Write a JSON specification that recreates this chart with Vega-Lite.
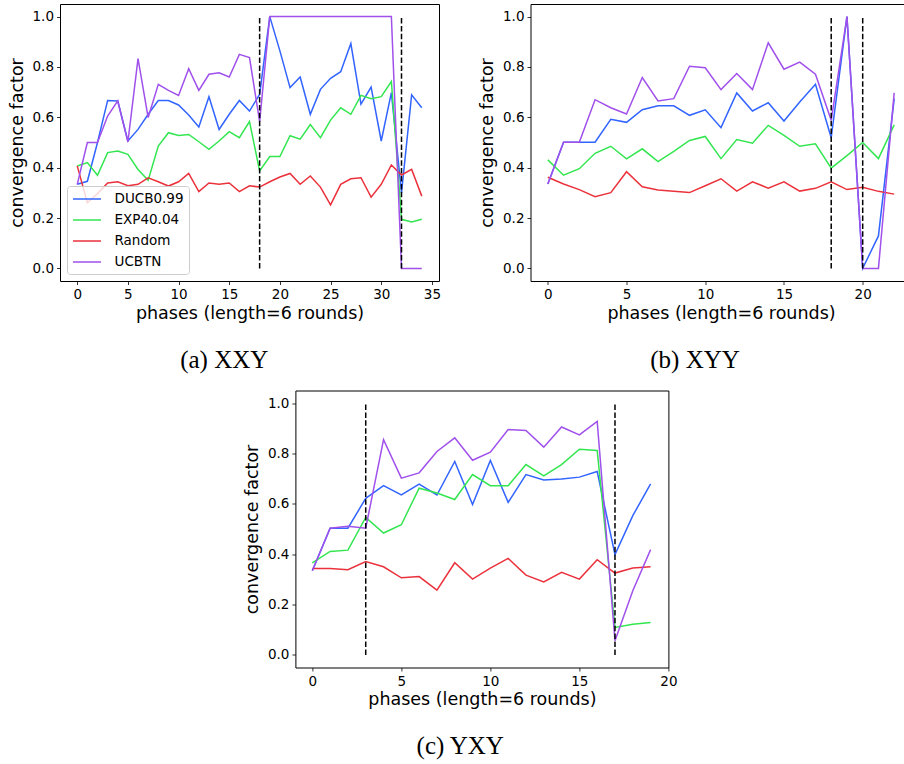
{
"$schema": "https://vega.github.io/schema/vega-lite/v6.json",
"padding": {"left": 7, "top": 3, "right": 0, "bottom": 0},
"background": "white",
"config": {
  "font": "DejaVu Sans",
  "view": {"stroke": "black", "strokeWidth": 1},
  "axis": {"domain": false, "grid": false, "tickColor": "black", "tickSize": 3.5, "tickWidth": 0.8, "labelColor": "black", "labelFont": "DejaVu Sans", "labelFontSize": 13.5, "labelPadding": 3, "titleColor": "black", "titleFont": "DejaVu Sans", "titleFontSize": 17.5, "titleFontWeight": "normal", "labelFlush": false, "labelOverlap": false},
  "axisX": {"titlePadding": 3},
  "axisY": {"titlePadding": 6},
  "title": {"font": "Liberation Serif", "fontSize": 25, "fontWeight": "normal", "color": "black", "orient": "bottom", "anchor": "middle", "frame": "bounds", "offset": 26}
},
"spacing": 16.5,
"resolve": {"scale": {"color": "independent", "x": "independent", "y": "independent"}, "legend": {"color": "independent"}},
"vconcat": [
 {
  "bounds": "flush",
  "spacing": 91.5,
  "resolve": {"scale": {"color": "independent", "x": "independent", "y": "independent"}, "legend": {"color": "independent"}},
  "hconcat": [
   {
    "width": 379, "height": 277,
    "title": {"text": "(a) XXY"},
    "layer": [
     {
      "data": {"values": [
{"phase":0,"algorithm":"DUCB0.99","value":0.334},{"phase":1,"algorithm":"DUCB0.99","value":0.346},{"phase":2,"algorithm":"DUCB0.99","value":0.5},{"phase":3,"algorithm":"DUCB0.99","value":0.667},{"phase":4,"algorithm":"DUCB0.99","value":0.665},{"phase":5,"algorithm":"DUCB0.99","value":0.506},{"phase":6,"algorithm":"DUCB0.99","value":0.552},{"phase":7,"algorithm":"DUCB0.99","value":0.612},{"phase":8,"algorithm":"DUCB0.99","value":0.667},{"phase":9,"algorithm":"DUCB0.99","value":0.667},{"phase":10,"algorithm":"DUCB0.99","value":0.649},{"phase":11,"algorithm":"DUCB0.99","value":0.609},{"phase":12,"algorithm":"DUCB0.99","value":0.562},{"phase":13,"algorithm":"DUCB0.99","value":0.682},{"phase":14,"algorithm":"DUCB0.99","value":0.552},{"phase":15,"algorithm":"DUCB0.99","value":0.612},{"phase":16,"algorithm":"DUCB0.99","value":0.667},{"phase":17,"algorithm":"DUCB0.99","value":0.625},{"phase":18,"algorithm":"DUCB0.99","value":0.691},{"phase":19,"algorithm":"DUCB0.99","value":1.0},{"phase":20,"algorithm":"DUCB0.99","value":0.864},{"phase":21,"algorithm":"DUCB0.99","value":0.718},{"phase":22,"algorithm":"DUCB0.99","value":0.76},{"phase":23,"algorithm":"DUCB0.99","value":0.612},{"phase":24,"algorithm":"DUCB0.99","value":0.711},{"phase":25,"algorithm":"DUCB0.99","value":0.755},{"phase":26,"algorithm":"DUCB0.99","value":0.781},{"phase":27,"algorithm":"DUCB0.99","value":0.893},{"phase":28,"algorithm":"DUCB0.99","value":0.652},{"phase":29,"algorithm":"DUCB0.99","value":0.72},{"phase":30,"algorithm":"DUCB0.99","value":0.506},{"phase":31,"algorithm":"DUCB0.99","value":0.698},{"phase":32,"algorithm":"DUCB0.99","value":0.3},{"phase":33,"algorithm":"DUCB0.99","value":0.689},{"phase":34,"algorithm":"DUCB0.99","value":0.638},
{"phase":0,"algorithm":"EXP40.04","value":0.407},{"phase":1,"algorithm":"EXP40.04","value":0.42},{"phase":2,"algorithm":"EXP40.04","value":0.37},{"phase":3,"algorithm":"EXP40.04","value":0.46},{"phase":4,"algorithm":"EXP40.04","value":0.466},{"phase":5,"algorithm":"EXP40.04","value":0.453},{"phase":6,"algorithm":"EXP40.04","value":0.393},{"phase":7,"algorithm":"EXP40.04","value":0.35},{"phase":8,"algorithm":"EXP40.04","value":0.486},{"phase":9,"algorithm":"EXP40.04","value":0.539},{"phase":10,"algorithm":"EXP40.04","value":0.528},{"phase":11,"algorithm":"EXP40.04","value":0.532},{"phase":12,"algorithm":"EXP40.04","value":0.503},{"phase":13,"algorithm":"EXP40.04","value":0.473},{"phase":14,"algorithm":"EXP40.04","value":0.506},{"phase":15,"algorithm":"EXP40.04","value":0.543},{"phase":16,"algorithm":"EXP40.04","value":0.519},{"phase":17,"algorithm":"EXP40.04","value":0.583},{"phase":18,"algorithm":"EXP40.04","value":0.387},{"phase":19,"algorithm":"EXP40.04","value":0.444},{"phase":20,"algorithm":"EXP40.04","value":0.444},{"phase":21,"algorithm":"EXP40.04","value":0.527},{"phase":22,"algorithm":"EXP40.04","value":0.513},{"phase":23,"algorithm":"EXP40.04","value":0.571},{"phase":24,"algorithm":"EXP40.04","value":0.519},{"phase":25,"algorithm":"EXP40.04","value":0.589},{"phase":26,"algorithm":"EXP40.04","value":0.638},{"phase":27,"algorithm":"EXP40.04","value":0.612},{"phase":28,"algorithm":"EXP40.04","value":0.687},{"phase":29,"algorithm":"EXP40.04","value":0.674},{"phase":30,"algorithm":"EXP40.04","value":0.682},{"phase":31,"algorithm":"EXP40.04","value":0.742},{"phase":32,"algorithm":"EXP40.04","value":0.195},{"phase":33,"algorithm":"EXP40.04","value":0.184},{"phase":34,"algorithm":"EXP40.04","value":0.195},
{"phase":0,"algorithm":"Random","value":0.407},{"phase":1,"algorithm":"Random","value":0.261},{"phase":2,"algorithm":"Random","value":0.297},{"phase":3,"algorithm":"Random","value":0.339},{"phase":4,"algorithm":"Random","value":0.344},{"phase":5,"algorithm":"Random","value":0.328},{"phase":6,"algorithm":"Random","value":0.334},{"phase":7,"algorithm":"Random","value":0.36},{"phase":8,"algorithm":"Random","value":0.344},{"phase":9,"algorithm":"Random","value":0.327},{"phase":10,"algorithm":"Random","value":0.344},{"phase":11,"algorithm":"Random","value":0.377},{"phase":12,"algorithm":"Random","value":0.305},{"phase":13,"algorithm":"Random","value":0.339},{"phase":14,"algorithm":"Random","value":0.334},{"phase":15,"algorithm":"Random","value":0.339},{"phase":16,"algorithm":"Random","value":0.305},{"phase":17,"algorithm":"Random","value":0.328},{"phase":18,"algorithm":"Random","value":0.323},{"phase":19,"algorithm":"Random","value":0.344},{"phase":20,"algorithm":"Random","value":0.363},{"phase":21,"algorithm":"Random","value":0.377},{"phase":22,"algorithm":"Random","value":0.334},{"phase":23,"algorithm":"Random","value":0.367},{"phase":24,"algorithm":"Random","value":0.323},{"phase":25,"algorithm":"Random","value":0.252},{"phase":26,"algorithm":"Random","value":0.334},{"phase":27,"algorithm":"Random","value":0.356},{"phase":28,"algorithm":"Random","value":0.36},{"phase":29,"algorithm":"Random","value":0.283},{"phase":30,"algorithm":"Random","value":0.334},{"phase":31,"algorithm":"Random","value":0.411},{"phase":32,"algorithm":"Random","value":0.371},{"phase":33,"algorithm":"Random","value":0.393},{"phase":34,"algorithm":"Random","value":0.287},
{"phase":0,"algorithm":"UCBTN","value":0.334},{"phase":1,"algorithm":"UCBTN","value":0.5},{"phase":2,"algorithm":"UCBTN","value":0.5},{"phase":3,"algorithm":"UCBTN","value":0.605},{"phase":4,"algorithm":"UCBTN","value":0.665},{"phase":5,"algorithm":"UCBTN","value":0.502},{"phase":6,"algorithm":"UCBTN","value":0.833},{"phase":7,"algorithm":"UCBTN","value":0.599},{"phase":8,"algorithm":"UCBTN","value":0.731},{"phase":9,"algorithm":"UCBTN","value":0.707},{"phase":10,"algorithm":"UCBTN","value":0.687},{"phase":11,"algorithm":"UCBTN","value":0.793},{"phase":12,"algorithm":"UCBTN","value":0.707},{"phase":13,"algorithm":"UCBTN","value":0.771},{"phase":14,"algorithm":"UCBTN","value":0.777},{"phase":15,"algorithm":"UCBTN","value":0.76},{"phase":16,"algorithm":"UCBTN","value":0.85},{"phase":17,"algorithm":"UCBTN","value":0.837},{"phase":18,"algorithm":"UCBTN","value":0.583},{"phase":19,"algorithm":"UCBTN","value":1},{"phase":20,"algorithm":"UCBTN","value":1},{"phase":21,"algorithm":"UCBTN","value":1},{"phase":22,"algorithm":"UCBTN","value":1},{"phase":23,"algorithm":"UCBTN","value":1},{"phase":24,"algorithm":"UCBTN","value":1},{"phase":25,"algorithm":"UCBTN","value":1},{"phase":26,"algorithm":"UCBTN","value":1},{"phase":27,"algorithm":"UCBTN","value":1},{"phase":28,"algorithm":"UCBTN","value":1},{"phase":29,"algorithm":"UCBTN","value":1},{"phase":30,"algorithm":"UCBTN","value":1},{"phase":31,"algorithm":"UCBTN","value":1},{"phase":32,"algorithm":"UCBTN","value":0},{"phase":33,"algorithm":"UCBTN","value":0},{"phase":34,"algorithm":"UCBTN","value":0}
      ]},
      "mark": {"type": "line", "strokeWidth": 1.5},
      "encoding": {
        "x": {"field": "phase", "type": "quantitative", "title": "phases (length=6 rounds)", "scale": {"domain": [-1.7, 35.7], "nice": false, "zero": false}, "axis": {"values": [0,5,10,15,20,25,30,35], "format": "d"}},
        "y": {"field": "value", "type": "quantitative", "title": "convergence factor", "scale": {"domain": [-0.05, 1.05], "nice": false, "zero": false}, "axis": {"values": [0,0.2,0.4,0.6,0.8,1], "format": ".1f"}},
        "color": {"field": "algorithm", "type": "nominal", "scale": {"domain": ["DUCB0.99","EXP40.04","Random","UCBTN"], "range": ["#3264ff","#33e650","#eb323c","#a050eb"]},
          "legend": {"title": null, "orient": "bottom-left", "offset": 7, "symbolType": "M-2,0L2,0", "symbolSize": 196, "symbolOffset": 7, "symbolStrokeWidth": 1.5, "labelFont": "DejaVu Sans", "labelFontSize": 13.5, "labelColor": "black", "labelOffset": 19.5, "rowPadding": 6, "padding": 5, "fillColor": "rgba(255,255,255,0.8)", "strokeColor": "#cccccc", "cornerRadius": 3}}
      }
     },
     {
      "data": {"values": [{"phase": 18}, {"phase": 32}]},
      "mark": {"type": "rule", "color": "black", "strokeWidth": 1.5, "strokeDash": [5.5, 2.4]},
      "encoding": {"x": {"field": "phase", "type": "quantitative"}, "y": {"datum": 0}, "y2": {"datum": 1}}
     }
    ]
   },
   {
    "width": 381, "height": 277,
    "title": {"text": "(b) XYY"},
    "layer": [
     {
      "data": {"values": [
{"phase":0,"algorithm":"DUCB0.99","value":0.335},{"phase":1,"algorithm":"DUCB0.99","value":0.501},{"phase":2,"algorithm":"DUCB0.99","value":0.501},{"phase":3,"algorithm":"DUCB0.99","value":0.501},{"phase":4,"algorithm":"DUCB0.99","value":0.592},{"phase":5,"algorithm":"DUCB0.99","value":0.58},{"phase":6,"algorithm":"DUCB0.99","value":0.63},{"phase":7,"algorithm":"DUCB0.99","value":0.646},{"phase":8,"algorithm":"DUCB0.99","value":0.646},{"phase":9,"algorithm":"DUCB0.99","value":0.608},{"phase":10,"algorithm":"DUCB0.99","value":0.63},{"phase":11,"algorithm":"DUCB0.99","value":0.559},{"phase":12,"algorithm":"DUCB0.99","value":0.697},{"phase":13,"algorithm":"DUCB0.99","value":0.625},{"phase":14,"algorithm":"DUCB0.99","value":0.658},{"phase":15,"algorithm":"DUCB0.99","value":0.585},{"phase":16,"algorithm":"DUCB0.99","value":0.661},{"phase":17,"algorithm":"DUCB0.99","value":0.731},{"phase":18,"algorithm":"DUCB0.99","value":0.519},{"phase":19,"algorithm":"DUCB0.99","value":1.0},{"phase":20,"algorithm":"DUCB0.99","value":0.0},{"phase":21,"algorithm":"DUCB0.99","value":0.129},{"phase":22,"algorithm":"DUCB0.99","value":0.674},
{"phase":0,"algorithm":"EXP40.04","value":0.431},{"phase":1,"algorithm":"EXP40.04","value":0.37},{"phase":2,"algorithm":"EXP40.04","value":0.396},{"phase":3,"algorithm":"EXP40.04","value":0.457},{"phase":4,"algorithm":"EXP40.04","value":0.485},{"phase":5,"algorithm":"EXP40.04","value":0.435},{"phase":6,"algorithm":"EXP40.04","value":0.475},{"phase":7,"algorithm":"EXP40.04","value":0.424},{"phase":8,"algorithm":"EXP40.04","value":0.465},{"phase":9,"algorithm":"EXP40.04","value":0.508},{"phase":10,"algorithm":"EXP40.04","value":0.524},{"phase":11,"algorithm":"EXP40.04","value":0.436},{"phase":12,"algorithm":"EXP40.04","value":0.512},{"phase":13,"algorithm":"EXP40.04","value":0.497},{"phase":14,"algorithm":"EXP40.04","value":0.568},{"phase":15,"algorithm":"EXP40.04","value":0.528},{"phase":16,"algorithm":"EXP40.04","value":0.485},{"phase":17,"algorithm":"EXP40.04","value":0.495},{"phase":18,"algorithm":"EXP40.04","value":0.398},{"phase":19,"algorithm":"EXP40.04","value":0.448},{"phase":20,"algorithm":"EXP40.04","value":0.5},{"phase":21,"algorithm":"EXP40.04","value":0.436},{"phase":22,"algorithm":"EXP40.04","value":0.57},
{"phase":0,"algorithm":"Random","value":0.362},{"phase":1,"algorithm":"Random","value":0.335},{"phase":2,"algorithm":"Random","value":0.313},{"phase":3,"algorithm":"Random","value":0.285},{"phase":4,"algorithm":"Random","value":0.301},{"phase":5,"algorithm":"Random","value":0.384},{"phase":6,"algorithm":"Random","value":0.324},{"phase":7,"algorithm":"Random","value":0.311},{"phase":8,"algorithm":"Random","value":0.306},{"phase":9,"algorithm":"Random","value":0.301},{"phase":10,"algorithm":"Random","value":0.328},{"phase":11,"algorithm":"Random","value":0.356},{"phase":12,"algorithm":"Random","value":0.307},{"phase":13,"algorithm":"Random","value":0.344},{"phase":14,"algorithm":"Random","value":0.319},{"phase":15,"algorithm":"Random","value":0.344},{"phase":16,"algorithm":"Random","value":0.307},{"phase":17,"algorithm":"Random","value":0.318},{"phase":18,"algorithm":"Random","value":0.344},{"phase":19,"algorithm":"Random","value":0.313},{"phase":20,"algorithm":"Random","value":0.322},{"phase":21,"algorithm":"Random","value":0.306},{"phase":22,"algorithm":"Random","value":0.295},
{"phase":0,"algorithm":"UCBTN","value":0.335},{"phase":1,"algorithm":"UCBTN","value":0.501},{"phase":2,"algorithm":"UCBTN","value":0.501},{"phase":3,"algorithm":"UCBTN","value":0.67},{"phase":4,"algorithm":"UCBTN","value":0.638},{"phase":5,"algorithm":"UCBTN","value":0.613},{"phase":6,"algorithm":"UCBTN","value":0.758},{"phase":7,"algorithm":"UCBTN","value":0.665},{"phase":8,"algorithm":"UCBTN","value":0.674},{"phase":9,"algorithm":"UCBTN","value":0.803},{"phase":10,"algorithm":"UCBTN","value":0.797},{"phase":11,"algorithm":"UCBTN","value":0.71},{"phase":12,"algorithm":"UCBTN","value":0.774},{"phase":13,"algorithm":"UCBTN","value":0.71},{"phase":14,"algorithm":"UCBTN","value":0.896},{"phase":15,"algorithm":"UCBTN","value":0.791},{"phase":16,"algorithm":"UCBTN","value":0.819},{"phase":17,"algorithm":"UCBTN","value":0.771},{"phase":18,"algorithm":"UCBTN","value":0.588},{"phase":19,"algorithm":"UCBTN","value":1.0},{"phase":20,"algorithm":"UCBTN","value":0.0},{"phase":21,"algorithm":"UCBTN","value":0.0},{"phase":22,"algorithm":"UCBTN","value":0.697}
      ]},
      "mark": {"type": "line", "strokeWidth": 1.5},
      "encoding": {
        "x": {"field": "phase", "type": "quantitative", "title": "phases (length=6 rounds)", "scale": {"domain": [-1.1, 23.1], "nice": false, "zero": false}, "axis": {"values": [0,5,10,15,20], "format": "d"}},
        "y": {"field": "value", "type": "quantitative", "title": "convergence factor", "scale": {"domain": [-0.05, 1.05], "nice": false, "zero": false}, "axis": {"values": [0,0.2,0.4,0.6,0.8,1], "format": ".1f"}},
        "color": {"field": "algorithm", "type": "nominal", "scale": {"domain": ["DUCB0.99","EXP40.04","Random","UCBTN"], "range": ["#3264ff","#33e650","#eb323c","#a050eb"]}, "legend": null}
      }
     },
     {
      "data": {"values": [{"phase": 18}, {"phase": 20}]},
      "mark": {"type": "rule", "color": "black", "strokeWidth": 1.5, "strokeDash": [5.5, 2.4]},
      "encoding": {"x": {"field": "phase", "type": "quantitative"}, "y": {"datum": 0}, "y2": {"datum": 1}}
     }
    ]
   }
  ]
 },
 {
  "bounds": "flush",
  "spacing": 234.4,
  "resolve": {"scale": {"color": "independent", "x": "independent", "y": "independent"}, "legend": {"color": "independent"}},
  "hconcat": [
   {
    "width": 1, "height": 277,
    "view": {"stroke": null},
    "data": {"values": [{"n": 1}]},
    "mark": {"type": "point", "opacity": 0, "size": 0},
    "encoding": {}
   },
   {
    "width": 373, "height": 277,
    "title": {"text": "(c) YXY"},
    "layer": [
     {
      "data": {"values": [
{"phase":0,"algorithm":"DUCB0.99","value":0.334},{"phase":1,"algorithm":"DUCB0.99","value":0.503},{"phase":2,"algorithm":"DUCB0.99","value":0.503},{"phase":3,"algorithm":"DUCB0.99","value":0.622},{"phase":4,"algorithm":"DUCB0.99","value":0.672},{"phase":5,"algorithm":"DUCB0.99","value":0.635},{"phase":6,"algorithm":"DUCB0.99","value":0.678},{"phase":7,"algorithm":"DUCB0.99","value":0.635},{"phase":8,"algorithm":"DUCB0.99","value":0.768},{"phase":9,"algorithm":"DUCB0.99","value":0.597},{"phase":10,"algorithm":"DUCB0.99","value":0.772},{"phase":11,"algorithm":"DUCB0.99","value":0.606},{"phase":12,"algorithm":"DUCB0.99","value":0.716},{"phase":13,"algorithm":"DUCB0.99","value":0.695},{"phase":14,"algorithm":"DUCB0.99","value":0.699},{"phase":15,"algorithm":"DUCB0.99","value":0.706},{"phase":16,"algorithm":"DUCB0.99","value":0.728},{"phase":17,"algorithm":"DUCB0.99","value":0.398},{"phase":18,"algorithm":"DUCB0.99","value":0.553},{"phase":19,"algorithm":"DUCB0.99","value":0.679},
{"phase":0,"algorithm":"EXP40.04","value":0.365},{"phase":1,"algorithm":"EXP40.04","value":0.411},{"phase":2,"algorithm":"EXP40.04","value":0.416},{"phase":3,"algorithm":"EXP40.04","value":0.546},{"phase":4,"algorithm":"EXP40.04","value":0.484},{"phase":5,"algorithm":"EXP40.04","value":0.517},{"phase":6,"algorithm":"EXP40.04","value":0.662},{"phase":7,"algorithm":"EXP40.04","value":0.643},{"phase":8,"algorithm":"EXP40.04","value":0.617},{"phase":9,"algorithm":"EXP40.04","value":0.716},{"phase":10,"algorithm":"EXP40.04","value":0.672},{"phase":11,"algorithm":"EXP40.04","value":0.672},{"phase":12,"algorithm":"EXP40.04","value":0.756},{"phase":13,"algorithm":"EXP40.04","value":0.711},{"phase":14,"algorithm":"EXP40.04","value":0.756},{"phase":15,"algorithm":"EXP40.04","value":0.817},{"phase":16,"algorithm":"EXP40.04","value":0.812},{"phase":17,"algorithm":"EXP40.04","value":0.109},{"phase":18,"algorithm":"EXP40.04","value":0.122},{"phase":19,"algorithm":"EXP40.04","value":0.129},
{"phase":0,"algorithm":"Random","value":0.343},{"phase":1,"algorithm":"Random","value":0.343},{"phase":2,"algorithm":"Random","value":0.338},{"phase":3,"algorithm":"Random","value":0.371},{"phase":4,"algorithm":"Random","value":0.35},{"phase":5,"algorithm":"Random","value":0.306},{"phase":6,"algorithm":"Random","value":0.311},{"phase":7,"algorithm":"Random","value":0.257},{"phase":8,"algorithm":"Random","value":0.366},{"phase":9,"algorithm":"Random","value":0.301},{"phase":10,"algorithm":"Random","value":0.345},{"phase":11,"algorithm":"Random","value":0.383},{"phase":12,"algorithm":"Random","value":0.317},{"phase":13,"algorithm":"Random","value":0.29},{"phase":14,"algorithm":"Random","value":0.328},{"phase":15,"algorithm":"Random","value":0.301},{"phase":16,"algorithm":"Random","value":0.378},{"phase":17,"algorithm":"Random","value":0.325},{"phase":18,"algorithm":"Random","value":0.345},{"phase":19,"algorithm":"Random","value":0.35},
{"phase":0,"algorithm":"UCBTN","value":0.334},{"phase":1,"algorithm":"UCBTN","value":0.503},{"phase":2,"algorithm":"UCBTN","value":0.511},{"phase":3,"algorithm":"UCBTN","value":0.503},{"phase":4,"algorithm":"UCBTN","value":0.855},{"phase":5,"algorithm":"UCBTN","value":0.702},{"phase":6,"algorithm":"UCBTN","value":0.723},{"phase":7,"algorithm":"UCBTN","value":0.808},{"phase":8,"algorithm":"UCBTN","value":0.862},{"phase":9,"algorithm":"UCBTN","value":0.773},{"phase":10,"algorithm":"UCBTN","value":0.805},{"phase":11,"algorithm":"UCBTN","value":0.895},{"phase":12,"algorithm":"UCBTN","value":0.891},{"phase":13,"algorithm":"UCBTN","value":0.825},{"phase":14,"algorithm":"UCBTN","value":0.905},{"phase":15,"algorithm":"UCBTN","value":0.874},{"phase":16,"algorithm":"UCBTN","value":0.927},{"phase":17,"algorithm":"UCBTN","value":0.056},{"phase":18,"algorithm":"UCBTN","value":0.255},{"phase":19,"algorithm":"UCBTN","value":0.418}
      ]},
      "mark": {"type": "line", "strokeWidth": 1.5},
      "encoding": {
        "x": {"field": "phase", "type": "quantitative", "title": "phases (length=6 rounds)", "scale": {"domain": [-0.95, 20], "nice": false, "zero": false}, "axis": {"values": [0,5,10,15,20], "format": "d"}},
        "y": {"field": "value", "type": "quantitative", "title": "convergence factor", "scale": {"domain": [-0.05, 1.05], "nice": false, "zero": false}, "axis": {"values": [0,0.2,0.4,0.6,0.8,1], "format": ".1f"}},
        "color": {"field": "algorithm", "type": "nominal", "scale": {"domain": ["DUCB0.99","EXP40.04","Random","UCBTN"], "range": ["#3264ff","#33e650","#eb323c","#a050eb"]}, "legend": null}
      }
     },
     {
      "data": {"values": [{"phase": 3}, {"phase": 17}]},
      "mark": {"type": "rule", "color": "black", "strokeWidth": 1.5, "strokeDash": [5.5, 2.4]},
      "encoding": {"x": {"field": "phase", "type": "quantitative"}, "y": {"datum": 0}, "y2": {"datum": 1}}
     }
    ]
   }
  ]
 }
]
}
